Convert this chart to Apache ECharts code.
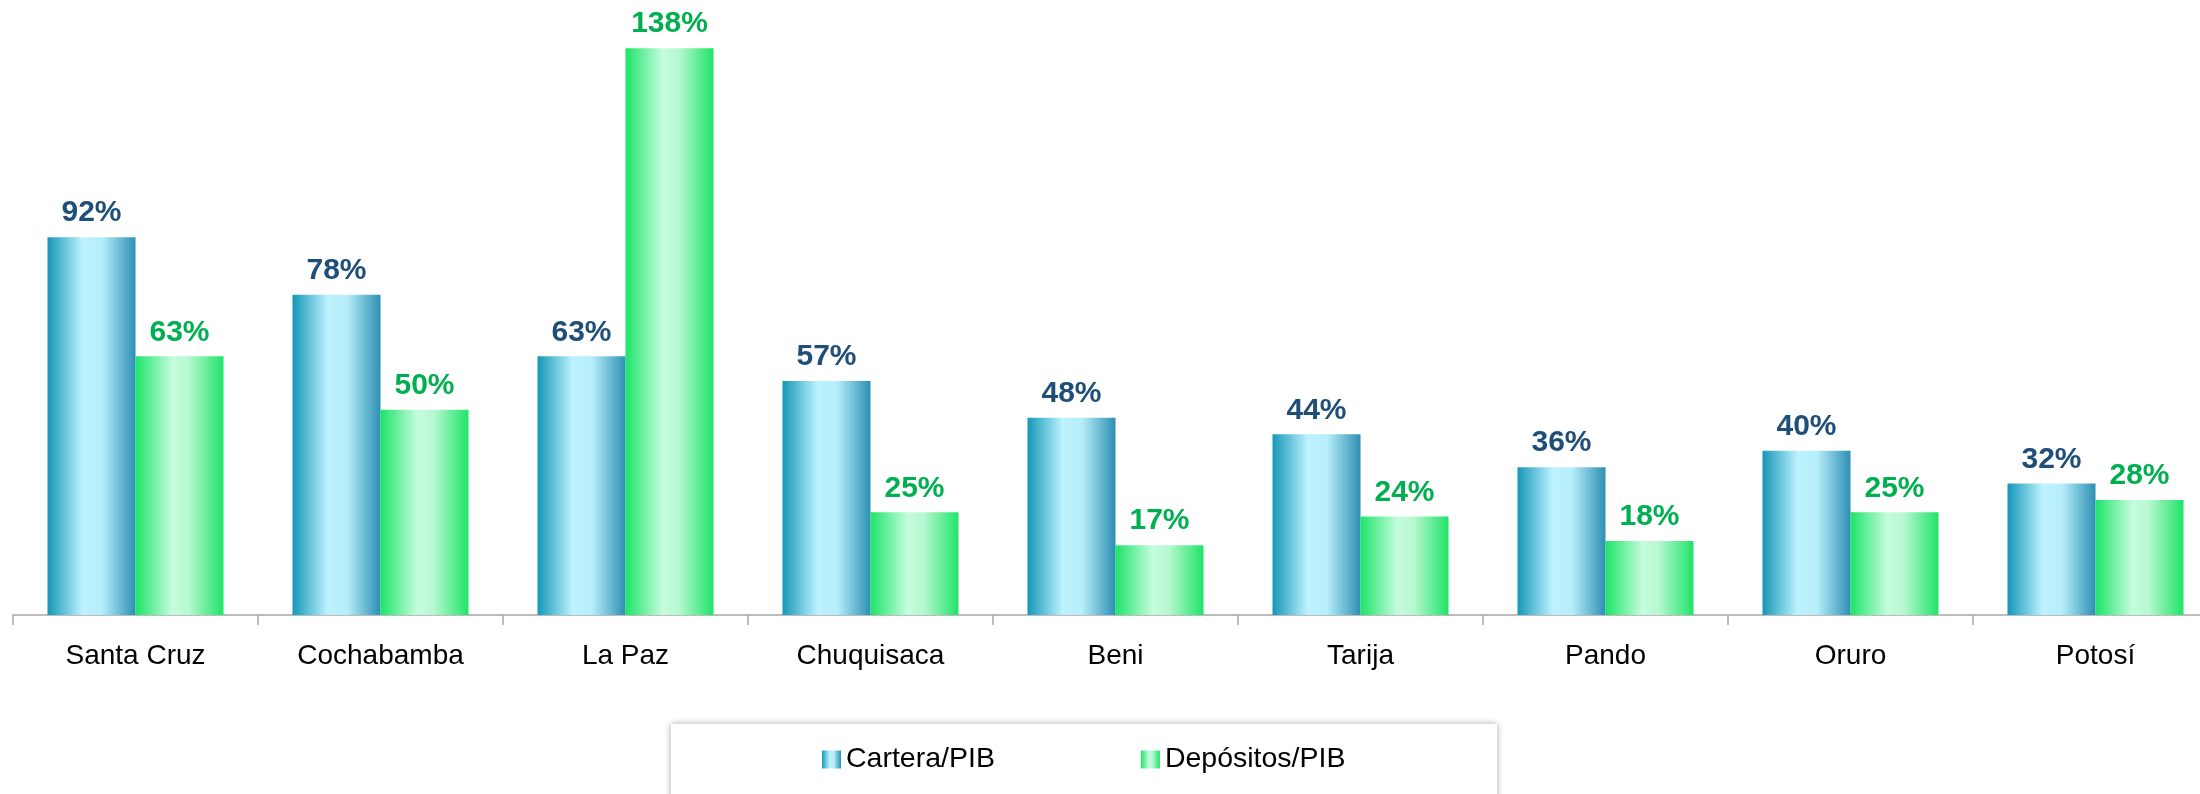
<!DOCTYPE html>
<html>
<head>
<meta charset="utf-8">
<script src="https://cdn.jsdelivr.net/npm/echarts@6/dist/echarts.min.js"></script>
<style>
  html, body { margin: 0; padding: 0; background: #fff; }
  #main { width: 2200px; height: 794px; }
</style>
</head>
<body>
<div id="main"></div>
<script>
const categories = ["Santa Cruz", "Cochabamba", "La Paz", "Chuquisaca", "Beni", "Tarija", "Pando", "Oruro", "Potosí"];
const carteraPib = [92, 78, 63, 57, 48, 44, 36, 40, 32];
const depositosPib = [63, 50, 138, 25, 17, 24, 18, 25, 28];

const blueFill = new echarts.graphic.LinearGradient(0, 0, 1, 0, [
  { offset: 0, color: "#1597B8" },
  { offset: 0.4, color: "#BDF2FF" },
  { offset: 0.62, color: "#B6EEFA" },
  { offset: 1, color: "#2D8FB4" }
]);
const greenFill = new echarts.graphic.LinearGradient(0, 0, 1, 0, [
  { offset: 0, color: "#1DE468" },
  { offset: 0.42, color: "#C4FCDD" },
  { offset: 0.6, color: "#B8F8D2" },
  { offset: 1, color: "#1FE468" }
]);

let myChart = echarts.init(document.getElementById("main"));
myChart.setOption({
  animation: false,
  textStyle: { fontFamily: "Liberation Sans" },
  grid: {
    left: 13,
    top: 40,
    width: 2205,
    bottom: 179,
    outerBoundsMode: "none"
  },
  graphic: [
    {
      type: "rect",
      z: -1,
      shape: { x: 671, y: 724, width: 826, height: 100 },
      style: {
        fill: "#fff",
        shadowBlur: 7,
        shadowColor: "rgba(0,0,0,0.35)"
      }
    }
  ],
  legend: {
    left: 822,
    top: 745,
    padding: 0,
    itemGap: 146,
    itemWidth: 19,
    itemHeight: 18,
    icon: "rect",
    textStyle: { fontSize: 28.5, color: "#000" },
    data: ["Cartera/PIB", "Depósitos/PIB"]
  },
  xAxis: {
    type: "category",
    data: categories,
    axisLine: { lineStyle: { color: "#A6A6A6", width: 1.5 } },
    axisTick: { show: true, length: 10, lineStyle: { color: "#A6A6A6", width: 1.5 } },
    axisLabel: { fontSize: 28, color: "#000", margin: 27 }
  },
  yAxis: {
    type: "value",
    min: 0,
    max: 140,
    show: false
  },
  series: [
    {
      name: "Cartera/PIB",
      type: "bar",
      data: carteraPib,
      barWidth: 88,
      barGap: "0%",
      itemStyle: { color: blueFill },
      label: {
        show: true,
        position: "top",
        distance: 9,
        formatter: "{c}%",
        fontSize: 30,
        fontWeight: "bold",
        color: "#1F4E79"
      }
    },
    {
      name: "Depósitos/PIB",
      type: "bar",
      data: depositosPib,
      barWidth: 88,
      itemStyle: { color: greenFill },
      label: {
        show: true,
        position: "top",
        distance: 9,
        formatter: "{c}%",
        fontSize: 30,
        fontWeight: "bold",
        color: "#00B050"
      }
    }
  ]
});
</script>
</body>
</html>
